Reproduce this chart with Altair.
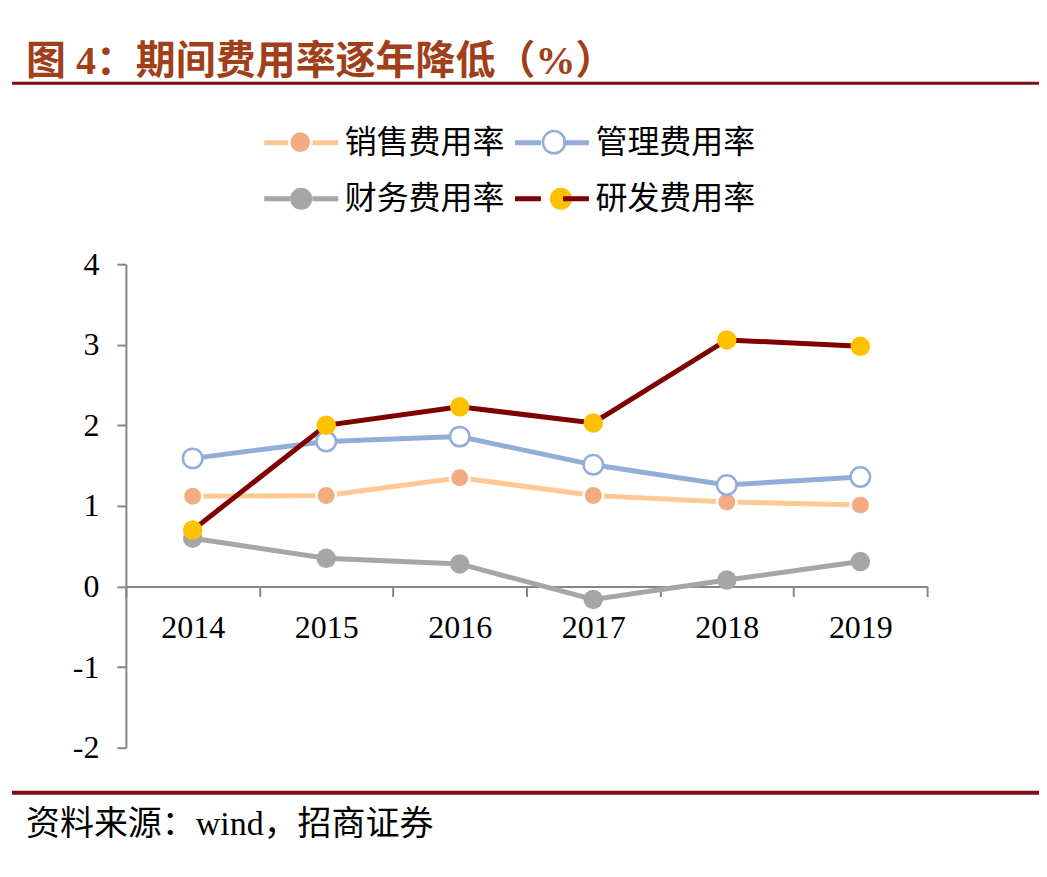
import altair as alt
import pandas as pd

years = ["2014", "2015", "2016", "2017", "2018", "2019"]
names = ["销售费用率", "管理费用率", "财务费用率", "研发费用率"]
sales = [1.12, 1.13, 1.35, 1.13, 1.05, 1.01]
admin = [1.59, 1.80, 1.86, 1.51, 1.26, 1.36]
fin = [0.60, 0.35, 0.28, -0.16, 0.08, 0.31]
rd = [0.70, 2.00, 2.23, 2.03, 3.06, 2.98]
y_ticks = [-2, -1, 0, 1, 2, 3, 4]

title_text = "图 4：期间费用率逐年降低（%）"
source_text = "资料来源：wind，招商证券"

line_colors = ["#FFC994", "#92AED8", "#A6A6A6", "#7F0000"]
fill_colors = ["#F2AC82", "#FFFFFF", "#A6A6A6", "#FFC000"]
ring_colors = ["#FFFFFF", "#92AED8", "transparent", "transparent"]

rows = []
for name, vals in zip(names, [sales, admin, fin, rd]):
    for yr, v in zip(years, vals):
        rows.append({"year": yr, "series": name, "value": v})
df = pd.DataFrame(rows)
df["series_f"] = df["series"]
df["series_s"] = df["series"]

CJK = "Noto Sans CJK SC"
SERIF = "Liberation Serif, Noto Sans CJK SC"
AXIS_GRAY = "#868686"

x_enc = alt.X(
    "year:O",
    scale=alt.Scale(type="band", paddingInner=0, paddingOuter=0),
    axis=alt.Axis(
        title=None, offset=-161.33, tickBand="extent", labelAngle=0,
        domainColor=AXIS_GRAY, domainWidth=2, tickColor=AXIS_GRAY, tickWidth=2,
        tickSize=10, labelPadding=16, labelFontSize=32, labelFont="Liberation Serif",
        labelColor="#000000",
    ),
)
y_enc = alt.Y(
    "value:Q",
    scale=alt.Scale(domain=[-2, 4], nice=False, zero=False),
    axis=alt.Axis(
        title=None, values=y_ticks, grid=False, domainColor=AXIS_GRAY, domainWidth=2,
        tickColor=AXIS_GRAY, tickWidth=2, tickSize=9, labelPadding=18,
        labelFontSize=32, labelFont="Liberation Serif", labelColor="#000000",
        labelExpr="'' + datum.value",
    ),
)

common = dict(
    orient="none", direction="horizontal", columns=2, title=None,
    labelFontSize=32, labelFont=CJK,
    labelLimit=600, symbolSize=1369, labelOffset=22.5,
    legendX=154.5, legendY=-142.5, symbolOpacity=1, rowPadding=10,
)
extA = "M-2,0L-2,0M2,0L2,0M0,-0.7L0,-0.7M0,0.7L0,0.7"
extC = "M-2.0676,0L-2.0676,0M2.0676,0L2.0676,0M0,-0.7676L0,-0.7676M0,0.7676L0,0.7676"
circle = "M-0.6,0A0.6,0.6,0,1,0,0.6,0A0.6,0.6,0,1,0,-0.6,0Z"
legA = alt.Legend(symbolType=extA + "M-2,0L-0.6,0M0.6,0L2,0", symbolStrokeWidth=5,
                  symbolFillColor="transparent", labelColor="#000000",
                  columnPadding=0, **common)
legB = alt.Legend(symbolType=extA + circle, symbolStrokeWidth=5,
                  symbolStrokeColor="transparent", labelExpr="''",
                  columnPadding=166, **common)
legC = alt.Legend(symbolType=extC + circle, symbolStrokeWidth=2.5,
                  symbolFillColor="transparent", labelExpr="''",
                  columnPadding=166, **common)

lines = alt.Chart(df).mark_line(strokeWidth=5).encode(
    x=x_enc, y=y_enc,
    stroke=alt.Stroke("series:N", sort=names, scale=alt.Scale(range=line_colors), legend=legA),
)
points = alt.Chart(df).mark_point(filled=True, shape="circle", size=380, strokeWidth=2.5, opacity=1).encode(
    x=x_enc, y=y_enc,
    fill=alt.Fill("series_f:N", sort=names, scale=alt.Scale(range=fill_colors), legend=legB),
    stroke=alt.Stroke("series_s:N", sort=names, scale=alt.Scale(range=ring_colors), legend=legC),
)

one = pd.DataFrame({"t": [title_text]})
title_mark = alt.Chart(one).mark_text(
    align="left", baseline="middle", fontSize=40, fontWeight="bold",
    font=SERIF, color="#A0401A",
).encode(text="t:N", x=alt.value(-100), y=alt.value(-202))

src = pd.DataFrame({"t": [source_text]})
source_mark = alt.Chart(src).mark_text(
    align="left", baseline="middle", fontSize=34, font=SERIF, color="#000000",
).encode(text="t:N", x=alt.value(-100), y=alt.value(561))

r1 = pd.DataFrame({"k": [1]})
top_rule = alt.Chart(r1).mark_rule(color="#7F0F0F", strokeWidth=3).encode(
    x=alt.value(-114), x2=alt.value(914), y=alt.value(-181))
bottom_rule = alt.Chart(r1).mark_rule(color="#7F0F0F", strokeWidth=4).encode(
    x=alt.value(-114), x2=alt.value(914), y=alt.value(529))

chart = alt.layer(
    lines, points, title_mark, source_mark, top_rule, bottom_rule
).resolve_scale(stroke="independent").properties(
    width=802, height=484,
    autosize=alt.AutoSizeParams(type="none"),
    padding={"left": 118, "top": 256, "right": 112, "bottom": 100},
).configure(font=SERIF).configure_view(stroke=None)

chart.save("out.html", embed_options={"renderer": "svg", "actions": False})
